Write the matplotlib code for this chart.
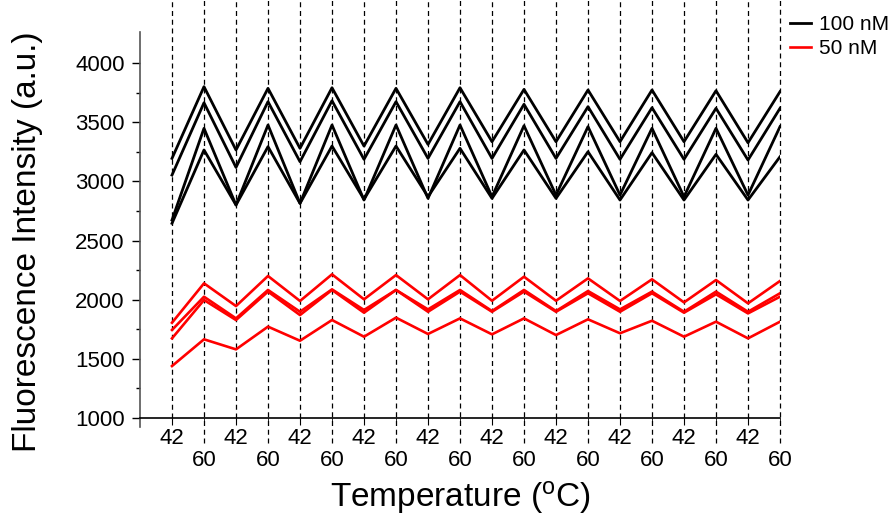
import matplotlib
matplotlib.use("Agg")
import matplotlib.pyplot as plt
import numpy as np

plt.rcParams['font.family'] = ['Liberation Sans', 'DejaVu Sans']
plt.rcParams['mathtext.fontset'] = 'custom'
plt.rcParams['mathtext.rm'] = 'Liberation Sans'
plt.rcParams['mathtext.it'] = 'Liberation Sans:italic'

temps = [42, 60] * 10
positions = list(range(len(temps)))

black_1 = [3194, 3800, 3265, 3786, 3279, 3791, 3298, 3786, 3312, 3791,
           3335, 3777, 3335, 3772, 3335, 3772, 3335, 3766, 3326, 3758]
black_2 = [3053, 3664, 3118, 3673, 3166, 3681, 3186, 3673, 3194, 3673,
           3194, 3651, 3194, 3631, 3186, 3622, 3186, 3617, 3180, 3617]
black_3 = [2673, 3448, 2800, 3476, 2814, 3476, 2842, 3476, 2856, 3476,
           2870, 3470, 2884, 3462, 2884, 3448, 2870, 3448, 2884, 3462]
black_4 = [2645, 3265, 2800, 3293, 2814, 3298, 2848, 3298, 2870, 3279,
           2856, 3265, 2856, 3250, 2842, 3242, 2842, 3228, 2842, 3208]

red_1 = [1805, 2138, 1946, 2200, 1989, 2214, 2003, 2208, 2003, 2208,
         1991, 2194, 1991, 2180, 1989, 2172, 1977, 2166, 1969, 2158]
red_2 = [1744, 2025, 1842, 2082, 1898, 2087, 1913, 2082, 1918, 2082,
         1904, 2082, 1904, 2073, 1918, 2068, 1898, 2068, 1898, 2054]
red_3 = [1673, 1997, 1828, 2068, 1870, 2082, 1890, 2082, 1898, 2068,
         1898, 2068, 1898, 2054, 1898, 2054, 1890, 2045, 1884, 2025]
red_4 = [1439, 1665, 1580, 1772, 1653, 1828, 1687, 1848, 1710, 1842,
         1707, 1842, 1701, 1834, 1716, 1822, 1687, 1814, 1673, 1814]

black_series = [black_1, black_2, black_3, black_4]
red_series = [red_1, red_2, red_3, red_4]
legend_labels = ['100 nM', '50 nM']

fig = plt.figure(figsize=(8.95, 5.17), dpi=100)
ax = fig.add_axes([140/895, 1-427/517, 640/895, 395/517])

# vertical dashed guide lines
for p, t in zip(positions, temps):
    ymin = 790 if t == 60 else 1000
    ax.vlines(p, ymin, 4540, colors='black', linestyles=(0, (4, 3)),
              linewidth=0.9, clip_on=False, zorder=1)

for i, s in enumerate(black_series):
    ax.plot(positions, s, color='black', linewidth=2.0, zorder=3,
            label=legend_labels[0] if i == 0 else None)
for i, s in enumerate(red_series):
    ax.plot(positions, s, color='#ff0000', linewidth=1.9, zorder=3,
            label=legend_labels[1] if i == 0 else None)

ax.set_xlim(-1, 19)
ax.set_ylim(924, 4262)
ax.spines['top'].set_visible(False)
ax.spines['right'].set_visible(False)
ax.spines['bottom'].set_position(('data', 1000))
ax.spines['left'].set_color('#555555')
ax.spines['left'].set_linewidth(1.2)
ax.spines['bottom'].set_linewidth(1.2)

pos42 = [p for p, t in zip(positions, temps) if t == 42]
pos60 = [p for p, t in zip(positions, temps) if t == 60]
ax.set_xticks(pos42, [str(42)] * len(pos42))
ax.set_xticks(pos60, [str(60)] * len(pos60), minor=True)
ax.tick_params(axis='x', which='major', direction='out', length=5, pad=2.5, labelsize=16)
ax.tick_params(axis='x', which='minor', direction='out', length=5, pad=18, labelsize=16)

ax.set_yticks(np.arange(1000, 4001, 500))
ax.set_yticks(np.arange(1250, 4001, 500), minor=True)
ax.tick_params(axis='y', which='major', direction='out', length=6, width=1, pad=5, labelsize=16)
ax.tick_params(axis='y', which='minor', direction='out', length=3, width=1)

fig.text(28/895, 1-242/517, 'Fluorescence Intensity (a.u.)', rotation=90,
         ha='center', va='center', fontsize=24)
fig.text(460/895, 1-507/517, 'Temperature ($\\mathrm{^{o}}$C)', ha='center',
         va='baseline', fontsize=24)

handles, labels = ax.get_legend_handles_labels()
fig.legend(handles, labels, loc='upper left', bbox_to_anchor=(790/895, 1-15/517),
           frameon=False, fontsize=15, handlelength=1.0, handletextpad=0.4,
           labelspacing=0.25, borderpad=0, borderaxespad=0)

fig.savefig('out.png', dpi=100)
